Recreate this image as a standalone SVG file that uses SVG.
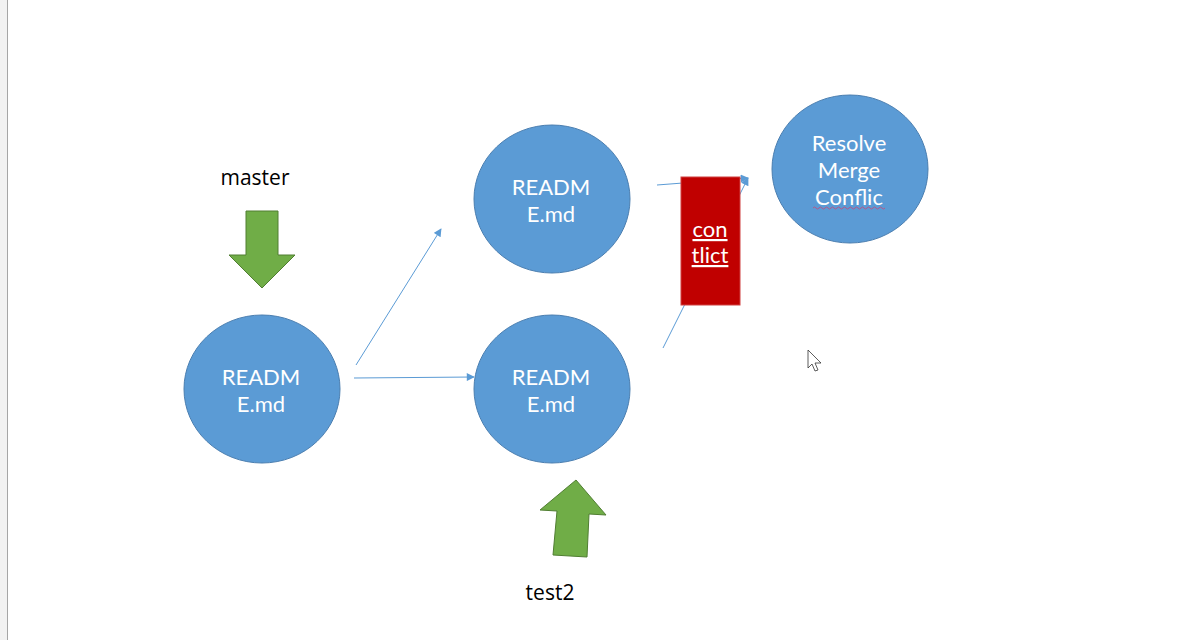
<svg xmlns="http://www.w3.org/2000/svg" width="1178" height="640" viewBox="0 0 1178 640">
<style>
.node{fill:#5b9bd5;stroke:#4a7eb0;stroke-width:1}
.nt{font-family:Lato,"Open Sans",sans-serif;font-size:22px;fill:#ffffff;text-anchor:middle}
.lbl{font-family:"Open Sans","Noto Sans",sans-serif;font-size:21px;fill:#000000;text-anchor:middle}
.conn{stroke:#5b9bd5;stroke-width:1;fill:none;marker-end:url(#ah)}
.garrow{fill:#70ad47;stroke:#507e32;stroke-width:1}
</style>
<defs>
<marker id="ah" viewBox="0 0 10 10" refX="9" refY="5" markerWidth="9" markerHeight="8" markerUnits="userSpaceOnUse" orient="auto">
<path d="M0,0 L10,5 L0,10 z" fill="#5b9bd5"/>
</marker>
</defs>
<rect x="0" y="0" width="1178" height="640" fill="#ffffff"/>
<rect x="0" y="0" width="7" height="640" fill="#f2f2f2"/>
<line x1="7.5" y1="0" x2="7.5" y2="640" stroke="#a6a6a6" stroke-width="1"/>
<g id="connectors">
<line class="conn" x1="356" y1="365" x2="441" y2="229"/>
<line class="conn" x1="354" y1="378" x2="474" y2="377"/>
<line class="conn" x1="657" y1="185" x2="748" y2="178"/>
<line class="conn" x1="663" y1="348" x2="748" y2="178"/>
</g>
<g id="master-label"><text class="lbl" x="255" y="185">master</text></g>
<g id="master-arrow"><polygon class="garrow" points="246,211 278,211 278,255 295,255 262,288 229,255 246,255"/></g>
<g id="node1">
<ellipse class="node" cx="262" cy="389" rx="78" ry="74"/>
<text class="nt" x="261" y="385">READM</text>
<text class="nt" x="261" y="412">E.md</text>
</g>
<g id="node2">
<ellipse class="node" cx="552" cy="199" rx="78" ry="74"/>
<text class="nt" x="551" y="195">READM</text>
<text class="nt" x="551" y="222">E.md</text>
</g>
<g id="node3">
<ellipse class="node" cx="552" cy="389" rx="78" ry="74"/>
<text class="nt" x="551" y="385">READM</text>
<text class="nt" x="551" y="412">E.md</text>
</g>
<g id="conflict">
<rect x="681" y="177" width="59" height="128" fill="#c00000" stroke="#d04040" stroke-width="1"/>
<text class="nt" x="710" y="237" text-decoration="underline">con</text>
<text class="nt" x="710" y="263" text-decoration="underline">tlict</text>
</g>
<g id="node4">
<ellipse class="node" cx="850" cy="169" rx="78" ry="74"/>
<text class="nt" x="849" y="151">Resolve</text>
<text class="nt" x="849" y="178">Merge</text>
<text class="nt" x="849" y="205">Conflic</text>
<path d="M813,208 q1.5,-2 3,0 t3,0 t3,0 t3,0 t3,0 t3,0 t3,0 t3,0 t3,0 t3,0 t3,0 t3,0 t3,0 t3,0 t3,0 t3,0 t3,0 t3,0 t3,0 t3,0 t3,0 t3,0 t3,0 t3,0" fill="none" stroke="#c05080" stroke-width="0.9"/>
</g>
<g id="test2-arrow"><polygon class="garrow" points="576,480 606,515 589,514 587,557 553,555 557,511 540,510"/></g>
<g id="test2-label"><text class="lbl" x="550" y="600">test2</text></g>
<g id="cursor"><polygon points="808,350 808,368 812,364 815,371 818,370 815,363 821,363" fill="#ffffff" stroke="#333333" stroke-width="0.8"/></g>
</svg>
